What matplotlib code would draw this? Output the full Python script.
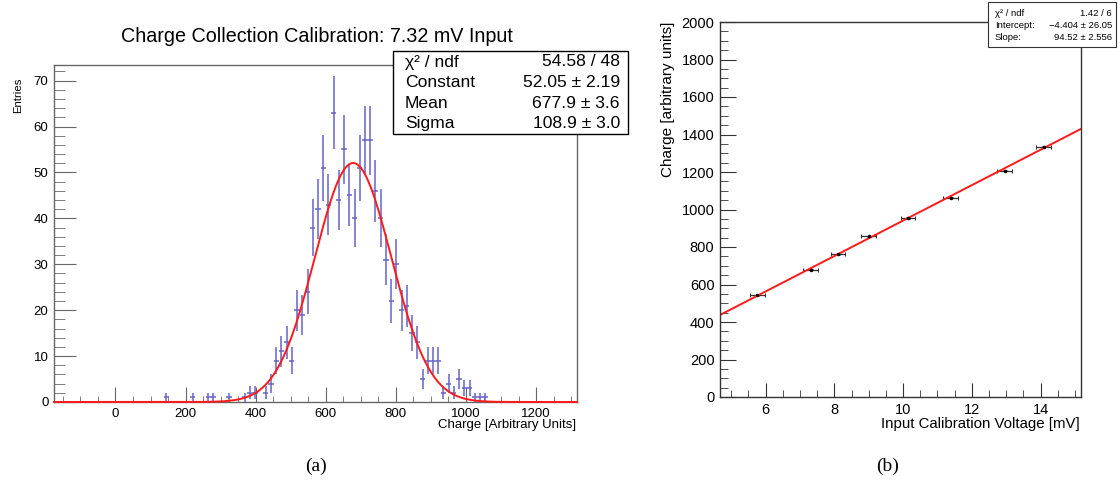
import numpy as np
import matplotlib.pyplot as plt
from matplotlib.patches import Rectangle
from matplotlib.ticker import MultipleLocator

plt.rcParams['font.family'] = ['Liberation Sans', 'DejaVu Sans']

# (a) charge histogram: 100 bins, only the filled ones listed
hist_lo = -175.3
hist_hi = 1315.7
n_bins = 100
filled_bins = [21, 26, 29, 30, 33, 36, 37, 38, 40, 41, 42, 43, 44, 45, 46, 47,
               48, 49, 50, 51, 52, 53, 54, 55, 56, 57, 58, 59, 60, 61, 62, 63,
               64, 65, 66, 67, 68, 69, 70, 71, 72, 73, 74, 75, 76, 77, 78, 79,
               80, 81, 82]
bin_counts = [1, 1, 1, 1, 1, 1, 2, 2, 2, 4, 9, 11, 13, 9, 20, 19,
              24, 38, 42, 51, 43, 63, 44, 55, 45, 40, 51, 57, 57, 46, 40, 31,
              22, 30, 20, 21, 15, 13, 5, 9, 9, 9, 2, 4, 2, 5, 3, 3,
              1, 1, 1]
gaus_const, gaus_mean, gaus_sigma = 52.05, 677.9, 108.9

# (b) calibration points
volt = [5.76, 7.31, 8.10, 9.00, 10.14, 11.38, 12.95, 14.09]
volt_err = [0.21, 0.21, 0.21, 0.21, 0.21, 0.21, 0.21, 0.21]
charge = [542, 678, 762, 858, 955, 1062, 1208, 1335]
charge_err = [3, 3, 3, 3, 3, 3, 3, 3]
lin_intercept, lin_slope = -4.404, 94.52

W, H = 1120, 488
fig = plt.figure(figsize=(W / 100, H / 100), dpi=100)


def px_axes(x0, x1, y0, y1):
    # axes from pixel box (top-left origin)
    return fig.add_axes([x0 / W, 1 - y1 / H, (x1 - x0) / W, (y1 - y0) / H])


def ftext(x, y, s, **kw):
    fig.text(x / W, 1 - y / H, s, **kw)


def root_style(ax, xlen, ylen, spine_col):
    ax.tick_params(which='both', direction='in', top=False, right=False,
                   labelsize=9.5, colors='black', pad=4)
    ax.tick_params(axis='x', which='major', length=xlen[0], color=spine_col)
    ax.tick_params(axis='x', which='minor', length=xlen[1], color=spine_col)
    ax.tick_params(axis='y', which='major', length=ylen[0], color=spine_col)
    ax.tick_params(axis='y', which='minor', length=ylen[1], color=spine_col)
    for s in ax.spines.values():
        s.set_color(spine_col)
        s.set_linewidth(1.0)


# ---------------- (a) ----------------
ax1 = px_axes(54, 576.7, 65, 402)
bw = (hist_hi - hist_lo) / n_bins
centers = hist_lo + (np.array(filled_bins) + 0.5) * bw
counts = np.array(bin_counts, dtype=float)
ax1.errorbar(centers, counts, xerr=bw / 2, yerr=np.sqrt(counts), fmt='none',
             ecolor='#6464c8', elinewidth=1.1, capsize=0)
xf = np.linspace(hist_lo, hist_hi, 600)
ax1.plot(xf, gaus_const * np.exp(-0.5 * ((xf - gaus_mean) / gaus_sigma) ** 2),
         color='#ff1a1a', lw=1.4, zorder=3, clip_on=False)
ax1.set_xlim(hist_lo, hist_hi)
ax1.set_ylim(0, 73.4)
ax1.xaxis.set_major_locator(MultipleLocator(200))
ax1.xaxis.set_minor_locator(MultipleLocator(50))
ax1.yaxis.set_major_locator(MultipleLocator(10))
ax1.yaxis.set_minor_locator(MultipleLocator(2))
root_style(ax1, (11, 4.5), (16, 8), '#666666')

ftext(317, 36, 'Charge Collection Calibration: 7.32 mV Input', ha='center',
      va='center', fontsize=14.2)
ftext(576, 425, 'Charge [Arbitrary Units]', ha='right', va='center', fontsize=9.5)
ftext(18, 78, 'Entries', ha='center', va='top', rotation=90, fontsize=8.2)

fig.add_artist(Rectangle((393 / W, 1 - 134 / H), 235 / W, 83 / H,
                         transform=fig.transFigure, fc='white', ec='black', lw=1))
stat_rows = [('χ² / ndf', '54.58 / 48'),
             ('Constant', '52.05 ± 2.19'),
             ('Mean', '677.9 ± 3.6'),
             ('Sigma', '108.9 ± 3.0')]
for i, (lab, val) in enumerate(stat_rows):
    yy = 62 + i * 20.5
    ftext(405, yy, lab, ha='left', va='center', fontsize=12.6)
    ftext(620, yy, val, ha='right', va='center', fontsize=12.6)

# ---------------- (b) ----------------
ax2 = px_axes(720, 1081, 22, 397)
ax2.errorbar(volt, charge, xerr=volt_err, yerr=charge_err, fmt='o', ms=1.5,
             color='black', ecolor='#333333', elinewidth=0.9, capsize=1.5,
             capthick=0.8)
xl = np.array([4.675, 15.175])
ax2.plot(xl, lin_intercept + lin_slope * xl, color='#ff1a1a', lw=1.4)
ax2.set_xlim(4.675, 15.175)
ax2.set_ylim(0, 2000)
ax2.xaxis.set_major_locator(MultipleLocator(2))
ax2.xaxis.set_minor_locator(MultipleLocator(0.5))
ax2.yaxis.set_major_locator(MultipleLocator(200))
ax2.yaxis.set_minor_locator(MultipleLocator(50))
root_style(ax2, (10, 5), (11.5, 6), '#333333')
ax2.tick_params(labelsize=10.5)

ftext(1080, 424, 'Input Calibration Voltage [mV]', ha='right', va='center',
      fontsize=10.8)
ftext(668, 22, 'Charge [arbitrary units]', ha='center', va='top', rotation=90,
      fontsize=11)

fig.add_artist(Rectangle((988 / W, 1 - 47 / H), 128 / W, 45 / H,
                         transform=fig.transFigure, fc='white', ec='#333333',
                         lw=0.8))
fit_rows = [('χ² / ndf', '1.42 / 6'),
            ('Intercept:', '−4.404 ± 26.05'),
            ('Slope:', '94.52 ± 2.556')]
for i, (lab, val) in enumerate(fit_rows):
    yy = 13 + i * 12.5
    ftext(995, yy, lab, ha='left', va='center', fontsize=6.8)
    ftext(1112, yy, val, ha='right', va='center', fontsize=6.8)

# captions
ftext(316, 466, '(a)', ha='center', va='center', fontsize=14,
      family='Liberation Serif')
ftext(888, 466, '(b)', ha='center', va='center', fontsize=14,
      family='Liberation Serif')

fig.savefig('out.png', dpi=100)
